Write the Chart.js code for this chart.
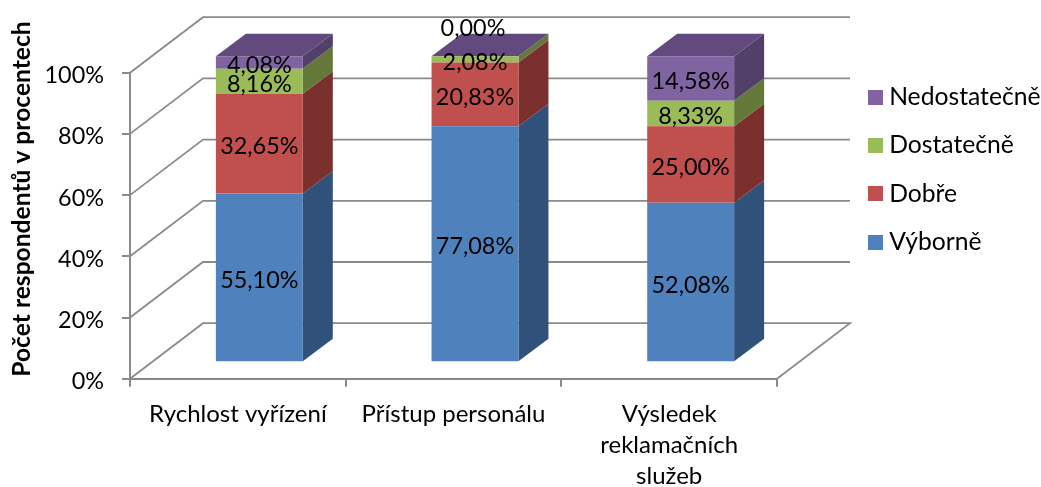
<!DOCTYPE html>
<html>
<head>
<meta charset="utf-8">
<title>Hodnocení reklamačních služeb</title>
<style>
  html, body { margin: 0; padding: 0; background: #fff; }
  canvas { display: block; }
</style>
<script src="https://cdn.jsdelivr.net/npm/chart.js@4"></script>
</head>
<body>
<canvas id="barChart" width="1041" height="487"></canvas>
<script>
var categories = ['Rychlost vyřízení', 'Přístup personálu', ['Výsledek', 'reklamačních', 'služeb']];
var vyborne = [55.10, 77.08, 52.08];
var dobre = [32.65, 20.83, 25.00];
var dostatecne = [8.16, 2.08, 8.33];
var nedostatecne = [4.08, 0.00, 14.58];

var fontName = 'Lato';
var gridColor = '#8a8a8a';

// 3D look: depth of the plot box and the shift of the bars inside it
var boxDepth = { x: 73, y: -55.5 };
var barShift = { x: 21.5, y: -16.5 };
var barDepth = { x: 30, y: -22.5 };

var sideColors = ['#30527a', '#7c302e', '#64783a', '#523f6a'];
var topColor = '#624a7e';

// legend square as a small canvas, so the text can sit closer to it
function swatch(color) {
  var c = document.createElement('canvas');
  c.width = 15;
  c.height = 15;
  var g = c.getContext('2d');
  g.fillStyle = color;
  g.fillRect(0, 0, 15, 15);
  return c;
}

var chart3d = {
  id: 'chart3d',
  afterLayout: function(chart) {
    var lg = chart.legend;
    lg.left = 874.8 - lg.options.labels.padding;
    lg.right = 1041;
    lg.top = 61.2;
    lg.bottom = 300;
  },
  beforeDatasetsDraw: function(chart) {
    var ctx = chart.ctx;
    var area = chart.chartArea;
    var y = chart.scales.y;
    ctx.save();
    ctx.strokeStyle = gridColor;
    ctx.lineWidth = 1.8;
    y.ticks.forEach(function(t) {
      var py = y.getPixelForValue(t.value);
      ctx.beginPath();
      ctx.moveTo(area.left, py);
      ctx.lineTo(area.left + boxDepth.x, py + boxDepth.y);
      ctx.lineTo(area.right + boxDepth.x, py + boxDepth.y);
      if (t.value === 0) ctx.lineTo(area.right, py);
      ctx.stroke();
    });
    ctx.restore();

    // bars live a bit inside the box, side faces go under the fronts
    ctx.save();
    ctx.translate(barShift.x, barShift.y);
    chart.data.datasets.forEach(function(ds, i) {
      chart.getDatasetMeta(i).data.forEach(function(bar) {
        var right = bar.x + bar.width / 2;
        ctx.fillStyle = sideColors[i];
        ctx.beginPath();
        ctx.moveTo(right, bar.y);
        ctx.lineTo(right + barDepth.x, bar.y + barDepth.y);
        ctx.lineTo(right + barDepth.x, bar.base + barDepth.y);
        ctx.lineTo(right, bar.base);
        ctx.closePath();
        ctx.fill();
      });
    });
    var last = chart.getDatasetMeta(chart.data.datasets.length - 1);
    last.data.forEach(function(bar) {
      var left = bar.x - bar.width / 2;
      var right = bar.x + bar.width / 2;
      ctx.fillStyle = topColor;
      ctx.beginPath();
      ctx.moveTo(left, bar.y);
      ctx.lineTo(left + barDepth.x, bar.y + barDepth.y);
      ctx.lineTo(right + barDepth.x, bar.y + barDepth.y);
      ctx.lineTo(right, bar.y);
      ctx.closePath();
      ctx.fill();
    });
  },
  afterDatasetsDraw: function(chart) {
    var ctx = chart.ctx;
    ctx.font = '23.4px ' + fontName;
    ctx.fillStyle = '#000';
    ctx.textAlign = 'center';
    ctx.textBaseline = 'middle';
    chart.data.datasets.forEach(function(ds, i) {
      chart.getDatasetMeta(i).data.forEach(function(bar, j) {
        var val = ds.data[j];
        var txt = val.toFixed(2).replace('.', ',') + '%';
        var ly = (bar.y + bar.base) / 2 + 3;
        // the empty segment label sits above the bar
        if (val === 0) ly -= 31;
        ctx.fillText(txt, bar.x + (val === 0 ? -2 : 0), ly);
      });
    });
    ctx.restore();

    // y axis title
    ctx.save();
    ctx.translate(22, 199);
    ctx.rotate(-Math.PI / 2);
    ctx.font = 'bold 24.6px ' + fontName;
    ctx.fillStyle = '#000';
    ctx.textAlign = 'center';
    ctx.textBaseline = 'middle';
    ctx.fillText('Počet respondentů v procentech', 0, 0);
    ctx.restore();
  }
};

var ctx = document.getElementById('barChart');

var myChart = new Chart(ctx, {
  type: 'bar',
  data: {
    labels: categories,
    datasets: [
      { label: 'Výborně', data: vyborne, backgroundColor: '#4f81bd', pointStyle: swatch('#4f81bd') },
      { label: 'Dobře', data: dobre, backgroundColor: '#c0504d', pointStyle: swatch('#c0504d') },
      { label: 'Dostatečně', data: dostatecne, backgroundColor: '#9bbb59', pointStyle: swatch('#9bbb59') },
      { label: 'Nedostatečně', data: nedostatecne, backgroundColor: '#8064a2', pointStyle: swatch('#8064a2') }
    ]
  },
  options: {
    responsive: false,
    animation: false,
    layout: { padding: { top: 72.7, right: 264, left: 0, bottom: 0 } },
    datasets: { bar: { barPercentage: 0.403, categoryPercentage: 1, borderWidth: 0, clip: false } },
    plugins: {
      title: { display: false },
      tooltip: { enabled: false },
      legend: {
        position: 'chartArea',
        align: 'start',
        reverse: true,
        labels: {
          usePointStyle: true,
          pointStyleWidth: 2,
          padding: 23.6,
          color: '#000',
          font: { family: fontName, size: 24.7 }
        }
      }
    },
    scales: {
      x: {
        stacked: true,
        afterFit: function(scale) { scale.height = 108.3; },
        grid: { color: gridColor, lineWidth: 2, drawOnChartArea: false, tickLength: 8 },
        border: { color: gridColor, width: 2 },
        ticks: {
          color: '#000',
          padding: 12.5,
          maxRotation: 0,
          autoSkip: false,
          font: { family: fontName, size: 24, lineHeight: 1.28 }
        }
      },
      y: {
        stacked: true,
        min: 0,
        max: 100,
        afterFit: function(scale) { scale.width = 130; },
        grid: { color: gridColor, lineWidth: 2, drawOnChartArea: false, tickLength: 8 },
        border: { color: gridColor, width: 2 },
        ticks: {
          stepSize: 20,
          color: '#000',
          padding: 18,
          labelOffset: 3,
          font: { family: fontName, size: 23.4 },
          callback: function(v) { return v + '%'; }
        }
      }
    }
  },
  plugins: [chart3d]
});
</script>
</body>
</html>
